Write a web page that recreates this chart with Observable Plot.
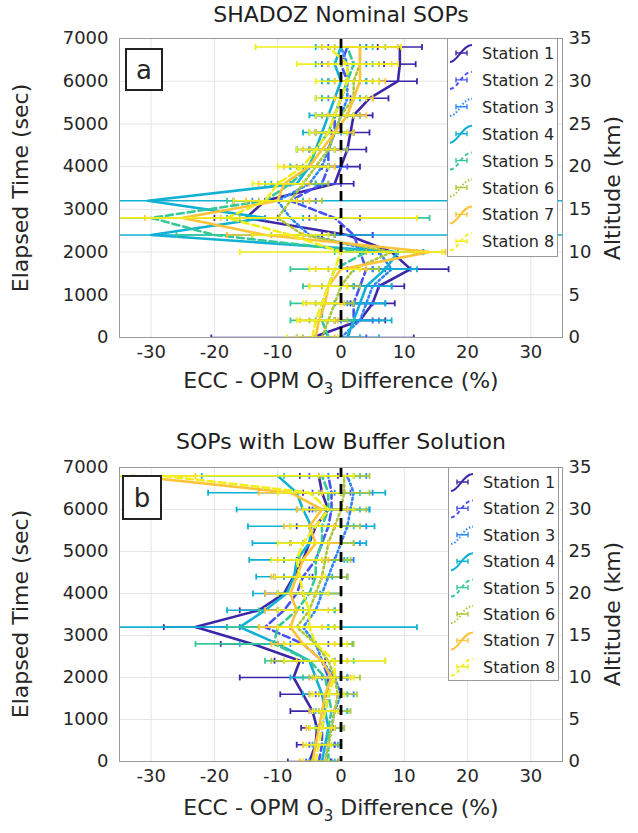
<!DOCTYPE html>
<html><head><meta charset="utf-8">
<script src="https://cdn.jsdelivr.net/npm/d3@7"></script>
<script src="https://cdn.jsdelivr.net/npm/@observablehq/plot@0.6"></script>
<style>
body{margin:0;background:#fff;font-family:"DejaVu Sans",sans-serif;color:#262626}
#root{position:relative;width:638px;height:833px;overflow:hidden;background:#fff}
.abs{position:absolute;white-space:nowrap;line-height:1}
.ctr{transform:translate(-50%,-50%)}
.rot{transform:translate(-50%,-50%) rotate(-90deg)}
.title{font-size:22px;font-weight:normal;color:#1e1e1e}
.lab{font-size:22px}
.lab sub{font-size:0.68em;line-height:0;vertical-align:-0.4em}
.legend{background:#fff;border:1px solid #9a9a9a;box-sizing:border-box}
.letter{border:2px solid #222;background:#fff;font-size:26px;display:flex;align-items:center;justify-content:center;box-sizing:border-box}
</style></head><body><div id="root"></div><script>
// ---------- data ----------
const elapsedTime = [0,400,800,1200,1600,2000,2400,2800,3200,3600,4000,4400,4800,5200,5600,6000,6400,6800];
const stationNames = ["Station 1","Station 2","Station 3","Station 4","Station 5","Station 6","Station 7","Station 8"];
const xTicks = [-30,-20,-10,0,10,20,30];
const timeTicks = [0,1000,2000,3000,4000,5000,6000,7000];
const altitudeTicks = [0,5,10,15,20,25,30,35];

// Panel a: SHADOZ Nominal SOPs (ECC - OPM difference, %)
const nominalDiff = [
  [-4.5, 3, 5, 6, 11, 8, 1, -15, -12, -1, 0, 1, 1.5, 2, 4.5, 9, 9.3, 9.3],
  [1, 2, 2, 3, 4, 3, 2, -1, -8, -3, -2, -2, -1, -1, 0, 1, 0, 1],
  [0, 3, 4, 5, 8, 6, -5, -8, -10, -5, -3, -2, -1, 0, 1, 1, 1, 0],
  [1, 2, 3, 4, 7, 9, -30, -12, -30.5, -7, -5, -4, -3, -2, -1, 0, -1, 0],
  [-2, -3, -3, -2, -1, 4, -20, -30, -12, -8, -5, -4, -2, -1, 0, 1, 2, 1],
  [-3, -2, -1, 0, 2, 8, -6, -10, -8, -6, -4, -2, -1, 0, 2, 2, 3, 3],
  [-4, -3.5, -2.5, -2, 0, 14, -12, -25, -10, -9, -5, -3, -1, 1, 2, 3, 3, 3],
  [-4.5, -4, -3, -2, -1, 0, -8, -18, -12, -10, -6, -4, -2, -1, 0, 1, 1, -2]
];
const nominalErr = [
  [16, 4, 3.5, 4, 6, 5, 4, 5, 5, 3, 3, 3, 3, 3, 3, 3, 2.5, 3.5],
  [3, 3, 3, 3, 3, 3, 3, 4, 4, 3, 3, 3, 3, 3, 3, 3, 3, 3],
  [3, 3, 3, 3, 3, 3, 4, 4, 4, 3, 3, 3, 3, 3, 3, 3, 3, 3],
  [5, 6, 4, 4, 5, 4, 70, 6, 70, 4, 3, 3, 3, 3, 3, 3, 3, 4],
  [5, 5, 5, 4, 7, 5, 6, 44, 6, 4, 3, 3, 3, 3, 3, 3, 3, 4],
  [3, 3, 3, 3, 4, 4, 5, 6, 5, 4, 3, 3, 3, 3, 3, 3, 3, 4],
  [3, 3, 3, 3, 4, 2.5, 6, 6, 5, 4, 4, 3, 3, 3, 3, 4, 5, 6],
  [4, 3, 3, 3, 4, 16, 6, 30, 5, 4, 4, 3, 3, 3, 4, 5, 8, 11.5]
];

// Panel b: SOPs with Low Buffer Solution
const lowBufferDiff = [
  [-5, -4, -3.8, -4.5, -6, -7.5, -6.5, -14, -23, -13, -9, -7.5, -6, -5, -4, -2, -3, -3.5],
  [-3.5, -3, -3, -2.5, -2, -2, -3, -6, -12, -9, -7, -6, -4, -3, -2, -1.5, -1.5, -2],
  [-2.5, -2, -1.5, -1, 0, -1, -3, -4, -6, -4, -3, -2, -1, 0, 1, 1.5, 2, 1],
  [-3, -2.5, -2, -2.5, -3, -4, -5, -10, -16, -12, -8.6, -7.4, -7, -5, -4.7, -6, -7, -10],
  [-2, -2, -2, -1.5, -2, -2.5, -5, -10.6, -10, -7, -5, -4, -4, -3, -3, -2, -2, -3],
  [-2.5, -2, -1.5, -1, -0.5, -1, -2, -4, -7, -5, -4, -3, -2.5, -2, -1, 0, 0.5, 0.5],
  [-4.5, -4, -3.5, -3, -2.5, -1.5, -3, -6, -8, -7, -8, -7, -6, -4, -5, -3, -8, -33],
  [-4, -3.5, -3, -2.5, -2, -1, -1, -4, -5, -5, -6, -6.5, -7, -6, -4, -2, -5, -28]
];
const lowBufferErr = [
  [3.4, 3, 2.5, 3.5, 3.6, 8.5, 4, 5, 5, 3, 3, 3, 3, 3, 3, 3, 3, 3],
  [2, 2, 2, 2, 2, 2, 3, 4, 4, 3, 3, 3, 3, 3, 3, 3, 3, 3],
  [2, 2, 2, 2, 2, 2, 3, 4, 4, 3, 3, 3, 3, 3, 3, 3, 3, 3],
  [2, 2, 2, 2.5, 3, 4, 4, 6, 28, 6, 5.3, 6, 7.5, 9, 10, 10.5, 14, 12],
  [2, 2, 2, 2.5, 3, 3.5, 7, 12.4, 8, 6, 5, 5, 5, 5, 5, 5, 5, 6],
  [2, 2, 2, 2.5, 3, 4, 9, 6, 6, 5, 4, 4, 4, 4, 4, 4, 4, 4],
  [2, 2, 2, 2, 2.5, 3, 4, 5, 5, 5, 4, 4, 4, 4, 4, 4, 5, 10],
  [2, 2, 2, 2, 2.5, 3, 8, 5, 5, 5, 4, 4, 4, 4, 4, 4, 5, 30]
];

// ---------- styles ----------
const stationColors = ["#3e26a8","#4852f4","#2d87f7","#11b1d6","#37c897","#abc739","#fec338","#f2ee1a"];
const stationDash = [null,"7,4","2,3",null,"7,4","2,3",null,"7,4"];
const capHalf = 70;

const root = document.getElementById("root");
function add(html, cls, style){
  const d = document.createElement("div");
  d.className = "abs " + cls;
  d.innerHTML = html;
  Object.assign(d.style, style);
  root.appendChild(d);
  return d;
}

function panel(diffRows, errRows, top, height){
  const marks = [
    Plot.ruleX(xTicks, {stroke:"#e6e6e6", strokeWidth:1}),
    Plot.ruleY(timeTicks, {stroke:"#e6e6e6", strokeWidth:1})
  ];
  stationNames.forEach((name, i) => {
    const data = elapsedTime.map((t, j) => ({t, d: diffRows[i][j], e: errRows[i][j]}));
    const c = stationColors[i];
    marks.push(Plot.link(data, {x1: r => r.d - r.e, x2: r => r.d + r.e, y1: "t", y2: "t", stroke: c, strokeWidth: 1.6, clip: true}));
    marks.push(Plot.link(data, {x1: r => r.d - r.e, x2: r => r.d - r.e, y1: r => r.t - capHalf, y2: r => r.t + capHalf, stroke: c, strokeWidth: 1.8, clip: true}));
    marks.push(Plot.link(data, {x1: r => r.d + r.e, x2: r => r.d + r.e, y1: r => r.t - capHalf, y2: r => r.t + capHalf, stroke: c, strokeWidth: 1.8, clip: true}));
    marks.push(Plot.line(data, {x: "d", y: "t", stroke: c, strokeWidth: 2.6, strokeDasharray: stationDash[i] || undefined, clip: true}));
  });
  marks.push(Plot.ruleX([0], {stroke:"#000", strokeWidth:2.8, strokeDasharray:"10,7"}));
  marks.push(Plot.frame({stroke:"#9a9a9a"}));
  marks.push(Plot.axisX(xTicks, {anchor:"bottom", tickSize:0, tickPadding:8, fontSize:18, label:null, tickFormat: d => d < 0 ? "-" + Math.abs(d) : String(d)}));
  marks.push(Plot.axisY(timeTicks, {anchor:"left", tickSize:0, tickPadding:11, fontSize:18, label:null, tickFormat: d => String(d)}));
  marks.push(Plot.axisY(timeTicks, {anchor:"right", tickSize:0, tickPadding:6, fontSize:18, label:null, tickFormat: (d, i) => String(altitudeTicks[i])}));
  const svg = Plot.plot({
    width: 638, height,
    marginTop: 38, marginBottom: 33, marginLeft: 119, marginRight: 76,
    x: {domain: [-35, 35]},
    y: {domain: [0, 7000]},
    style: {fontFamily: "DejaVu Sans", fontSize: "18px", color: "#262626", background: "transparent", overflow: "visible"},
    marks
  });
  svg.style.position = "absolute";
  svg.style.left = "0px";
  svg.style.top = top + "px";
  root.appendChild(svg);
}

function legend(left, top, w, h, spacing){
  let html = `<svg width="${w-2}" height="${h-2}" style="display:block">`;
  stationNames.forEach((name, i) => {
    const cy = 14 + i * spacing;
    const c = stationColors[i];
    const dash = stationDash[i] ? `stroke-dasharray="${stationDash[i] === "7,4" ? "4,3" : "1.5,2"}"` : "";
    html += `<path d="M2,${cy+9} C10,${cy+9} 14,${cy-8} 24,${cy-8}" fill="none" stroke="${c}" stroke-width="2" ${dash}/>`;
    html += `<path d="M8,${cy} H19 M8,${cy-2.5} V${cy+2.5} M19,${cy-2.5} V${cy+2.5}" stroke="${c}" stroke-width="1.4"/>`;
    html += `<text x="34" y="${cy+6}" font-size="16" font-family="DejaVu Sans" fill="#262626">${name}</text>`;
  });
  html += `</svg>`;
  add(html, "legend", {left: left+"px", top: top+"px", width: w+"px", height: h+"px"});
}

// Panel a
add("SHADOZ Nominal SOPs", "ctr title", {left:"341px", top:"15px"});
panel(nominalDiff, nominalErr, 0, 370);
legend(447, 38, 111, 219, 26.9);
add("a", "letter", {left:"125px", top:"48px", width:"38px", height:"43px"});
add("Elapsed Time (sec)", "rot lab", {left:"21px", top:"188px"});
add("Altitude (km)", "rot lab", {left:"613px", top:"188px"});
add("ECC - OPM O<sub>3</sub> Difference (%)", "ctr lab", {left:"341px", top:"381px"});

// Panel b
add("SOPs with Low Buffer Solution", "ctr title", {left:"341px", top:"442px"});
panel(lowBufferDiff, lowBufferErr, 429, 365);
legend(448, 467, 111, 214, 26.4);
add("b", "letter", {left:"122px", top:"475px", width:"40px", height:"45px"});
add("Elapsed Time (sec)", "rot lab", {left:"21px", top:"614px"});
add("Altitude (km)", "rot lab", {left:"613px", top:"614px"});
add("ECC - OPM O<sub>3</sub> Difference (%)", "ctr lab", {left:"341px", top:"808px"});
</script></body></html>
